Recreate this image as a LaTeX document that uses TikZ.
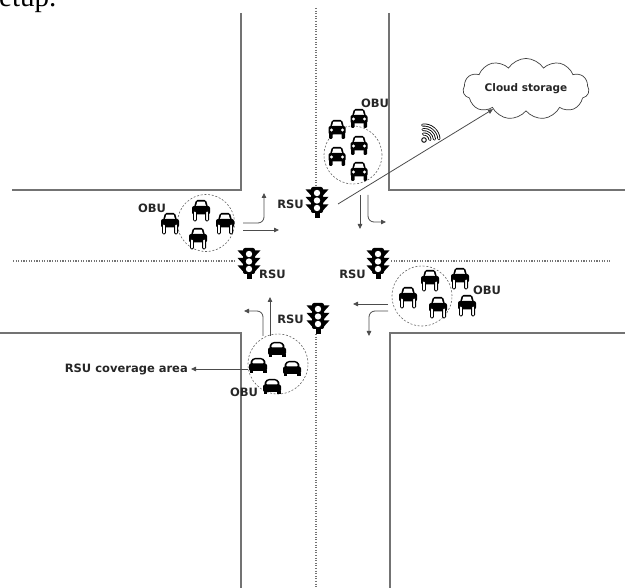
\documentclass[tikz,border=0pt]{standalone}
\usepackage{fontspec}
\setmainfont{DejaVu Sans}
\newfontfamily\serifcap{Liberation Serif}
\usetikzlibrary{arrows.meta,shapes.symbols}

\tikzset{
  road/.style={draw=black!55, line width=1.1pt},
  lane/.style={draw=black!55, line width=1.1pt, dash pattern=on 1.1pt off 1.5pt},
  coverage/.style={circle, draw=black!60, line width=0.6pt, dash pattern=on 2pt off 1.7pt, inner sep=0pt},
  flow/.style={draw=black!70, line width=0.8pt, rounded corners=6pt, -{Triangle[length=5pt,width=4.5pt]}},
  lbl/.style={font=\bfseries\fontsize{11.5}{13}\selectfont, text=black!85, inner sep=0pt},
  signal/.pic={
    \fill[rounded corners=2pt] (-6,-14) rectangle (6,12);
    \fill (-2.5,11) rectangle (2.5,17);
    \foreach \ly in {-8,-0.5,7}{
      \fill (-6,\ly-3.6) -- (-11.5,\ly-3.6) -- (-6,\ly+2.4) -- cycle;
      \fill (6,\ly-3.6) -- (11.5,\ly-3.6) -- (6,\ly+2.4) -- cycle;
      \fill[white] (0,\ly) circle (3.2);
    }
  },
  vehicle/.pic={
    \fill[rounded corners=1.5pt] (-5,-10) -- (5,-10) -- (7,-3) -- (-7,-3) -- cycle;
    \fill[white] (-3.6,-8.3) -- (3.6,-8.3) -- (5,-4.2) -- (-5,-4.2) -- cycle;
    \fill[rounded corners=2pt] (-8.5,-4) rectangle (8.5,4.5);
    \fill[white] (-5.5,0) circle (1.6) (5.5,0) circle (1.6);
    \fill[rounded corners=1pt] (-8,3) rectangle (-4.5,9);
    \fill[rounded corners=1pt] (4.5,3) rectangle (8,9);
  },
  litvehicle/.pic={
    \fill[rounded corners=1.5pt] (-5,-10) -- (5,-10) -- (7,-3) -- (-7,-3) -- cycle;
    \fill[white] (-3.6,-8.3) -- (3.6,-8.3) -- (5,-4.2) -- (-5,-4.2) -- cycle;
    \fill[rounded corners=2pt] (-9,-4) rectangle (9,4.5);
    \filldraw[fill=white, line width=0.8pt, rounded corners=1.2pt] (-7.6,1) rectangle (-4.6,11);
    \filldraw[fill=white, line width=0.8pt, rounded corners=1.2pt] (4.6,1) rectangle (7.6,11);
  },
  sedan/.pic={
    \fill[rounded corners=3pt] (-6,-8) -- (6,-8) -- (8.5,-1) -- (-8.5,-1) -- cycle;
    \fill[white, rounded corners=1.5pt] (-4.5,-6.5) -- (4.5,-6.5) -- (6.3,-2.2) -- (-6.3,-2.2) -- cycle;
    \fill[rounded corners=2pt] (-9,-2.5) rectangle (9,5);
    \fill (-8.5,4) rectangle (-5,7.5);
    \fill (5,4) rectangle (8.5,7.5);
  },
}

\begin{document}
\begin{tikzpicture}[x=1pt,y=-1pt]
  \useasboundingbox (0,0) rectangle (625,588);
  \node[font=\serifcap\fontsize{29}{30}\selectfont, anchor=base west, inner sep=0pt] (head) at (-1,7) {etup.};

  \draw[road] (241,13) -- (241,190) -- (12,190);
  \draw[road] (389,13) -- (389,190) -- (625,190);
  \draw[road] (0,333) -- (241,333) -- (241,588);
  \draw[road] (625,333) -- (390,333) -- (390,588);

  \draw[lane] (316,8) -- (316,186);
  \draw[lane] (316,334) -- (316,588);
  \draw[lane] (13,261) -- (236,261);
  \draw[lane] (391,261) -- (610,261);

  \pic at (317,201) {signal};
  \pic at (249,262) {signal};
  \pic at (378,262) {signal};
  \pic at (318,317) {signal};
  \node[lbl, anchor=east] (rsu1) at (304,204) {RSU};
  \node[lbl, anchor=west] (rsu2) at (259,274) {RSU};
  \node[lbl, anchor=east] (rsu3) at (366,274) {RSU};
  \node[lbl, anchor=east] (rsu4) at (304,319) {RSU};

  \coordinate (n1) at (360,195); \coordinate (n1e) at (360,229);
  \coordinate (n2) at (368,195); \coordinate (n2e) at (386,222);
  \coordinate (w1) at (243,230); \coordinate (w1e) at (279,230);
  \coordinate (w2) at (243,223); \coordinate (w2e) at (264,193);
  \coordinate (e1) at (388,304); \coordinate (e1e) at (353,304);
  \coordinate (e2) at (388,311); \coordinate (e2e) at (369,336);
  \coordinate (s1) at (270,336); \coordinate (s1e) at (270,297);
  \coordinate (s2) at (263,336); \coordinate (s2e) at (244,311);
  \draw[flow] (n1) -- (n1e);
  \draw[flow] (n2) |- (n2e);
  \draw[flow] (w1) -- (w1e);
  \draw[flow] (w2) -| (w2e);
  \draw[flow] (e1) -- (e1e);
  \draw[flow] (e2) -| (e2e);
  \draw[flow] (s1) -- (s1e);
  \draw[flow] (s2) |- (s2e);

  \node[coverage, minimum size=58pt] (c1) at (353,155) {};
  \node[coverage, minimum size=57pt] (c2) at (206,223) {};
  \node[coverage, minimum size=60pt] (c3) at (422,296) {};
  \node[coverage, minimum size=60pt] (c4) at (278,364) {};

  \foreach \cx/\cy in {337/130, 359/119, 337/157, 359/146, 359/172}
    \pic at (\cx,\cy) {vehicle};
  \foreach \cx/\cy in {170/223, 201/210, 225/223, 198/238, 408/297, 430/280, 460/278, 438/307, 467/305}
    \pic at (\cx,\cy) {litvehicle};
  \foreach \cx/\cy in {277/350, 258/366, 292/369, 272/387}
    \pic at (\cx,\cy) {sedan};

  \node[lbl] (obu1) at (375,103) {OBU};
  \node[lbl] (obu2) at (152,208) {OBU};
  \node[lbl] (obu3) at (487,290) {OBU};
  \node[lbl] (obu4) at (244,392) {OBU};

  \node[cloud, draw=black!75, line width=0.7pt, cloud puffs=11, cloud puff arc=115, aspect=2.6,
        minimum width=126pt, minimum height=46pt, lbl, font=\bfseries\fontsize{10.5}{12}\selectfont] (cloud) at (526,89) {Cloud storage};
  \coordinate (rsuout) at (338,204);
  \draw[flow] (rsuout) -- (cloud);

  \coordinate (wifi) at (424,140);
  \foreach \r in {6,10.5,15}{
    \draw[line width=3pt, line cap=round] ([shift={(-5:\r)}]wifi) arc (-5:-95:\r);
    \draw[white, line width=1.3pt, line cap=round] ([shift={(-5:\r)}]wifi) arc (-5:-95:\r);
  }
  \filldraw[fill=white, line width=0.9pt] (wifi) circle (2.3);

  \node[lbl, anchor=east] (cov) at (188,369) {RSU coverage area};
  \draw[flow] (c4.west |- cov.east) -- ([xshift=3pt]cov.east);
\end{tikzpicture}
\end{document}
